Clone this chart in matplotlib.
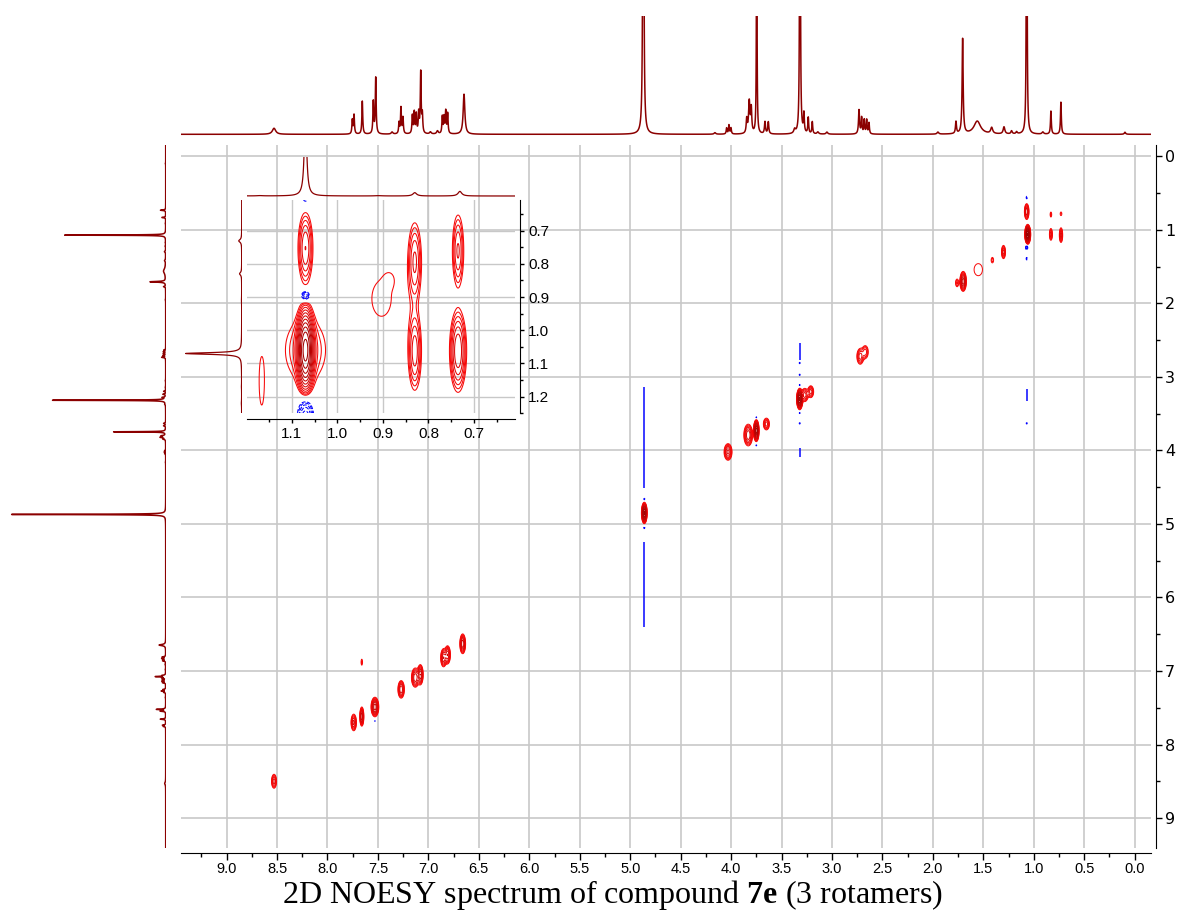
import numpy as np
import matplotlib
matplotlib.use("Agg")
import matplotlib.pyplot as plt
from matplotlib.ticker import MultipleLocator, FormatStrFormatter

plt.rcParams['mathtext.fontset'] = 'custom'
plt.rcParams['mathtext.rm'] = 'Liberation Serif'
plt.rcParams['mathtext.bf'] = 'Liberation Serif:bold'
plt.rcParams['path.simplify'] = False

W, H = 1180, 915
TRACE = "#8b0000"
GRIDC = "#c8c8c8"
TICKFONT = ['Liberation Sans Narrow', 'Liberation Sans']

# 1H trace: shift (ppm), height, half width (ppm)
h_shift = [8.53, 7.754, 7.737, 7.655, 7.546, 7.522, 7.36, 7.291, 7.272, 7.252,
           7.159, 7.140, 7.120, 7.096, 7.076, 7.060, 6.98, 6.91, 6.862, 6.845,
           6.828, 6.809, 6.647, 4.870, 4.16, 4.044, 4.021, 4.001, 3.845, 3.820,
           3.800, 3.746, 3.664, 3.631, 3.37, 3.317, 3.278, 3.235, 3.195, 3.14,
           3.05, 2.732, 2.706, 2.680, 2.656, 2.633, 1.95, 1.771, 1.705, 1.56,
           1.417, 1.295, 1.22, 1.17, 1.070, 0.91, 0.830, 0.731, 0.096]
h_height = [6, 14, 19, 33, 32, 56, 2, 11, 26, 16,
            18, 21, 19, 20, 61, 18, 2, 3, 17, 16,
            22, 20, 40, 940, 1.5, 6, 9, 6, 14, 32,
            24, 317, 12, 12, 4, 690, 19, 16, 12, 2,
            2, 24, 16, 14, 14, 11, 2, 12, 95, 13,
            6, 7, 3, 2, 616, 2, 23, 32, 2]
h_width = [0.02, 0.005, 0.005, 0.005, 0.005, 0.005, 0.01, 0.005, 0.005, 0.005,
           0.005, 0.005, 0.005, 0.005, 0.005, 0.005, 0.01, 0.01, 0.005, 0.005,
           0.005, 0.005, 0.01, 0.0035, 0.01, 0.005, 0.005, 0.005, 0.006, 0.008,
           0.006, 0.003, 0.006, 0.006, 0.01, 0.003, 0.005, 0.005, 0.005, 0.01,
           0.01, 0.006, 0.005, 0.005, 0.005, 0.005, 0.01, 0.006, 0.006, 0.04,
           0.012, 0.01, 0.008, 0.008, 0.003, 0.01, 0.005, 0.005, 0.008]

# NOESY cross peaks: f2, f1 (ppm), amplitude (negative = blue), widths
noe_f2 = [8.53, 7.66, 7.74, 7.66, 7.53, 7.27, 7.13, 7.08, 6.85, 6.81, 6.66,
          4.86, 4.03, 3.83, 3.75, 3.65, 3.32, 3.27, 3.21, 2.72, 2.67,
          1.76, 1.70, 1.55, 1.41, 1.30, 1.06, 1.07, 0.83, 0.83, 0.73, 0.73,
          1.07, 1.07, 1.07, 1.07, 3.75, 3.75, 3.32, 3.32, 3.32, 3.32, 3.32,
          4.86, 4.86, 7.53]
noe_f1 = [8.50, 6.88, 7.70, 7.62, 7.49, 7.25, 7.09, 7.05, 6.82, 6.78, 6.63,
          4.85, 4.02, 3.79, 3.73, 3.64, 3.30, 3.245, 3.20, 2.72, 2.66,
          1.72, 1.70, 1.54, 1.41, 1.30, 1.06, 0.75, 0.79, 1.06, 0.78, 1.07,
          0.56, 1.24, 1.39, 3.63, 3.55, 3.93, 2.81, 2.97, 3.11, 3.49, 3.63,
          4.66, 5.05, 7.68]
noe_amp = [4, 1.5, 5, 8, 10, 6, 6, 8, 6, 6, 8,
           30, 5, 6, 25, 4, 30, 4, 4, 4, 3,
           2, 10, 1.3, 1.6, 4, 40, 6, 1.6, 3, 1.4, 4,
           -1.5, -2.5, -1.5, -1.4, -1.5, -1.4, -1.4, -1.4, -1.4, -1.4, -1.4,
           -1.5, -1.5, -1.3]
noe_sx = [0.015, 0.008, 0.015, 0.010, 0.018, 0.017, 0.020, 0.014, 0.015, 0.015, 0.014,
          0.011, 0.022, 0.023, 0.011, 0.018, 0.012, 0.020, 0.017, 0.020, 0.020,
          0.013, 0.015, 0.057, 0.012, 0.012, 0.011, 0.012, 0.008, 0.010, 0.010, 0.010,
          0.006, 0.008, 0.006, 0.006, 0.006, 0.006, 0.006, 0.006, 0.006, 0.006, 0.006,
          0.006, 0.006, 0.005]
noe_sy = [0.057, 0.045, 0.063, 0.064, 0.062, 0.063, 0.069, 0.067, 0.065, 0.065, 0.066,
          0.056, 0.063, 0.078, 0.059, 0.048, 0.056, 0.054, 0.048, 0.064, 0.058,
          0.044, 0.063, 0.113, 0.037, 0.054, 0.050, 0.057, 0.035, 0.054, 0.030, 0.060,
          0.020, 0.022, 0.020, 0.012, 0.012, 0.010, 0.012, 0.012, 0.012, 0.012, 0.012,
          0.015, 0.015, 0.010]

# t1 noise streaks: f2, f1 start, f1 end
streak_f2 = [4.86, 4.86, 3.32, 3.32, 1.07]
streak_y0 = [3.13, 5.24, 2.54, 3.97, 3.17]
streak_y1 = [4.51, 6.40, 2.77, 4.09, 3.33]

# expansion 0.6-1.25 ppm
ins_f2 = [1.07, 1.07, 1.07, 1.07, 1.07, 1.07, 0.83, 0.83, 0.735, 0.735, 0.903, 0.884, 1.166]
ins_f1 = [0.753, 0.896, 0.600, 1.06, 1.06, 1.28, 0.793, 1.064, 0.761, 1.062, 0.905, 0.845, 1.155]
ins_amp = [4.5, -3.0, -1.8, 30, 2.2, -5.0, 3.5, 4, 3.5, 6, 1.15, 0.35, 1.3]
ins_sx = [0.0095, 0.0075, 0.006, 0.0085, 0.035, 0.011, 0.0092, 0.0088, 0.0079, 0.010, 0.040, 0.010, 0.0076]
ins_sy = [0.062, 0.012, 0.015, 0.055, 0.075, 0.045, 0.073, 0.070, 0.068, 0.066, 0.100, 0.020, 0.096]


def trace(ppm):
    s = np.zeros_like(ppm)
    for c, h, w in zip(h_shift, h_height, h_width):
        s += h * w**2 / ((ppm - c)**2 + w**2)
    return s


def peak_map(f2, f1, xs, ys, amps, sxs, sys_):
    z = np.zeros((len(f1), len(f2)))
    for x, y, a, sx, sy in zip(xs, ys, amps, sxs, sys_):
        gx = np.exp(-0.5 * ((f2 - x) / sx)**2)
        gy = np.exp(-0.5 * ((f1 - y) / sy)**2)
        z += a * np.outer(gy, gx)
    return z


def axes_px(fig, x0, y0, x1, y1):
    return fig.add_axes([x0 / W, 1 - y1 / H, (x1 - x0) / W, (y1 - y0) / H])


def draw_contours(ax, f2, f1, z, lw=0.7):
    pos = 1.35 ** np.arange(16)
    t = np.clip((np.arange(16) - 2) / 11.0, 0, 1)
    cols = [(0.97 - 0.42 * v, 0.03 * (1 - v), 0.03 * (1 - v)) for v in t]
    ax.contour(f2, f1, z, levels=pos, colors=cols, linewidths=lw)
    ax.contour(f2, f1, z, levels=-pos[::-1], colors="#0000ff", linewidths=lw)


pt = 72.0 / 100  # points per pixel at dpi 100

fig = plt.figure(figsize=(W / 100, H / 100), dpi=100)

XL = (9.452, -0.159)
YL = (9.404, -0.156)

# main 2D map
ax = axes_px(fig, 181, 145, 1150.7, 847.7)
f2 = np.linspace(9.46, -0.17, 3200)
f1 = np.linspace(-0.17, 9.42, 1200)
z = peak_map(f2, f1, noe_f2, noe_f1, noe_amp, noe_sx, noe_sy)
draw_contours(ax, f2, f1, z)
ax.vlines(streak_f2, streak_y0, streak_y1, color="#0000ff", lw=1.5 * pt)
ax.set_xlim(*XL)
ax.set_ylim(*YL)
ax.xaxis.set_major_locator(MultipleLocator(0.5))
ax.xaxis.set_minor_locator(MultipleLocator(0.25))
ax.xaxis.set_major_formatter(FormatStrFormatter('%.1f'))
ax.yaxis.set_major_locator(MultipleLocator(1))
ax.yaxis.set_minor_locator(MultipleLocator(0.5))
ax.yaxis.tick_right()
ax.grid(True, which='major', color=GRIDC, lw=1.2)
ax.set_axisbelow(True)
for s in ['top', 'left']:
    ax.spines[s].set_visible(False)
ax.spines['bottom'].set_position(('outward', 5.6 * pt))
ax.spines['right'].set_position(('outward', 5.3 * pt))
ax.tick_params(axis='x', which='major', length=7 * pt, width=1, pad=1.5, labelsize=10.5)
ax.tick_params(axis='x', which='minor', length=4 * pt, width=1)
ax.tick_params(axis='y', which='major', length=6 * pt, width=1, pad=2, labelsize=11.5)
ax.tick_params(axis='y', which='minor', length=3.5 * pt, width=1)
for lab in ax.get_xticklabels():
    lab.set_family(TICKFONT)

# 1D projections
ppm = np.arange(9.46, -0.17, -0.0005)
spec = trace(ppm)

top = axes_px(fig, 181, 16, 1150.7, 137)
top.plot(ppm, spec, color=TRACE, lw=1.1)
top.set_xlim(*XL)
top.set_ylim(-2.7, 118.3)
top.axis('off')

left = axes_px(fig, 0, 145, 165.7, 847.7)
left.plot(spec, ppm, color=TRACE, lw=1.1)
left.set_xlim(1011, 0)
left.set_ylim(*YL)
left.axis('off')

# expansion of the methyl region
IXL = (1.199, 0.610)
IYL = (1.25, 0.608)
ins = axes_px(fig, 246.7, 200, 515, 413.3)
ins.patch.set_alpha(0)
g2 = np.linspace(1.21, 0.60, 800)
g1 = np.linspace(0.59, 1.27, 800)
zi = peak_map(g2, g1, ins_f2, ins_f1, ins_amp, ins_sx, ins_sy)
draw_contours(ins, g2, g1, zi, lw=0.75)
ins.set_xlim(*IXL)
ins.set_ylim(*IYL)
ins.xaxis.set_major_locator(MultipleLocator(0.1))
ins.xaxis.set_minor_locator(MultipleLocator(0.05))
ins.xaxis.set_major_formatter(FormatStrFormatter('%.1f'))
ins.yaxis.set_major_locator(MultipleLocator(0.1))
ins.yaxis.set_minor_locator(MultipleLocator(0.05))
ins.yaxis.set_major_formatter(FormatStrFormatter('%.1f'))
ins.yaxis.tick_right()
ins.grid(True, which='major', color=GRIDC, lw=1.0)
for s in ['top', 'left']:
    ins.spines[s].set_visible(False)
ins.spines['bottom'].set_position(('outward', 6 * pt))
ins.spines['right'].set_position(('outward', 5 * pt))
ins.tick_params(which='major', length=4 * pt, width=1, labelsize=11, pad=3)
ins.tick_params(which='minor', length=3 * pt, width=1)
for lab in ins.get_xticklabels() + ins.get_yticklabels():
    lab.set_family(TICKFONT)

itop = axes_px(fig, 246.7, 156.7, 515, 198)
itop.plot(ppm, spec, color=TRACE, lw=0.9)
itop.set_xlim(*IXL)
itop.set_ylim(-14, 275)
itop.axis('off')

ileft = axes_px(fig, 150, 200, 241.7, 413.3)
ileft.plot(spec, ppm, color=TRACE, lw=0.9)
ileft.set_xlim(1009, 0)
ileft.set_ylim(*IYL)
ileft.axis('off')

fig.text(612 / W, 1 - 895 / H, r"2D NOESY spectrum of compound $\mathbf{7e}$ (3 rotamers)",
         ha='center', va='center', fontsize=23, family='Liberation Serif')

fig.savefig('out.png', dpi=100)
